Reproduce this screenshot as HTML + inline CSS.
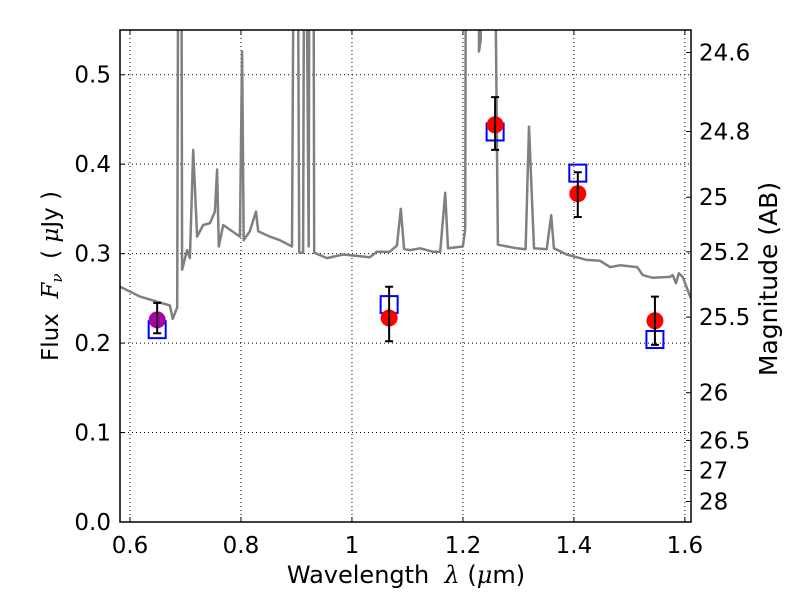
<!DOCTYPE html>
<html><head><meta charset="utf-8">
<style>
html,body{margin:0;padding:0;background:#fff;}
svg text{font-family:"DejaVu Sans","Liberation Sans",sans-serif;fill:#000;}
</style></head>
<body>
<svg id="chart" width="800" height="600" viewBox="0 0 800 600" xmlns="http://www.w3.org/2000/svg">
<rect width="800" height="600" fill="#fff"/>
<g id="grid"></g>
<g id="plot"></g>
<g id="axes"></g>
</svg>
<script>
// ---- data ----
const specWave = [0.582,0.618,0.672,0.677,0.685,0.688,0.692,0.694,0.703,0.708,0.714,0.721,0.732,0.744,0.753,0.757,0.760,0.768,0.798,0.802,0.805,0.816,0.827,0.831,0.852,0.870,0.892,0.897,0.901,0.905,0.912,0.915,0.922,0.924,0.930,0.932,0.955,0.984,1.032,1.045,1.068,1.081,1.088,1.094,1.105,1.123,1.146,1.159,1.168,1.173,1.200,1.204,1.206,1.228,1.229,1.232,1.236,1.254,1.263,1.297,1.313,1.319,1.328,1.351,1.359,1.364,1.387,1.423,1.447,1.465,1.483,1.514,1.524,1.542,1.573,1.578,1.584,1.589,1.596,1.607,1.611];
const specFlux = [0.263,0.252,0.242,0.227,0.240,0.9,0.9,0.282,0.304,0.295,0.416,0.319,0.332,0.334,0.347,0.394,0.308,0.332,0.319,0.526,0.315,0.325,0.347,0.325,0.319,0.315,0.308,0.9,0.9,0.301,0.301,0.9,0.308,0.9,0.9,0.301,0.295,0.299,0.296,0.302,0.302,0.309,0.350,0.305,0.304,0.306,0.302,0.302,0.368,0.306,0.308,0.327,0.9,0.9,0.526,0.539,0.9,0.9,0.310,0.306,0.305,0.442,0.306,0.305,0.343,0.306,0.299,0.293,0.292,0.285,0.287,0.285,0.276,0.273,0.274,0.276,0.267,0.278,0.274,0.256,0.25];
const obsWave = [0.649,1.067,1.258,1.407,1.546];
const obsFlux = [0.226,0.228,0.444,0.367,0.225];
const obsErrLo = [0.211,0.202,0.416,0.341,0.198];
const obsErrHi = [0.245,0.263,0.475,0.391,0.252];
const obsColor = ['#aa00aa','#ff0000','#ff0000','#ff0000','#ff0000'];
const modelFlux = [0.215,0.243,0.436,0.390,0.204];
const xTicks = [0.6,0.8,1.0,1.2,1.4,1.6];
const xTickLabels = ['0.6','0.8','1','1.2','1.4','1.6'];
const yTicks = [0,0.1,0.2,0.3,0.4,0.5];
const yTickLabels = ['0.0','0.1','0.2','0.3','0.4','0.5'];
const magTicks = [24.6,24.8,25,25.2,25.5,26,26.5,27,28];
const magTickLabels = ['24.6','24.8','25','25.2','25.5','26','26.5','27','28'];

// ---- axes ----
const L=120,R=691,T=30,B=522;
const xMin=0.582,xMax=1.611,yMin=0,yMax=0.55;
const X=v=>L+(v-xMin)/(xMax-xMin)*(R-L);
const Y=v=>B-(v-yMin)/(yMax-yMin)*(B-T);
const magToFlux=m=>Math.pow(10,(23.9-m)/2.5);
const NS='http://www.w3.org/2000/svg';
function mk(tag,attrs,parent){const e=document.createElementNS(NS,tag);for(const k in attrs)e.setAttribute(k,attrs[k]);parent.appendChild(e);return e;}
const grid=document.getElementById('grid'),plot=document.getElementById('plot'),axes=document.getElementById('axes');
const FS=23;

xTicks.forEach((t,i)=>{
  const x=X(t);
  let g=mk('line',{x1:x,x2:x,y1:T,y2:B,stroke:'#000','stroke-width':1,'stroke-dasharray':'1,3'},grid);
  
  
  let tk=mk('line',{x1:x,x2:x,y1:B,y2:B-5,stroke:'#000'},axes);
  
  
  let tk2=mk('line',{x1:x,x2:x,y1:T,y2:T+5,stroke:'#000'},axes);
  
  
  let tx=mk('text',{x:x,y:B+31,'text-anchor':'middle','font-size':FS},axes);
  tx.textContent=xTickLabels[i];
  
  
});
yTicks.forEach((t,i)=>{
  const y=Y(t);
  let g=mk('line',{x1:L,x2:R,y1:y,y2:y,stroke:'#000','stroke-width':1,'stroke-dasharray':'1,3'},grid);
  
  
  let tk=mk('line',{x1:L,x2:L+5,y1:y,y2:y,stroke:'#000'},axes);
  
  
  let tx=mk('text',{x:L-9,y:y+8,'text-anchor':'end','font-size':FS},axes);
  tx.textContent=yTickLabels[i];
  
  
});
magTicks.forEach((m,i)=>{
  const y=Y(magToFlux(m));
  let tk=mk('line',{x1:R,x2:R-5,y1:y,y2:y,stroke:'#000'},axes);
  
  
  let tx=mk('text',{x:R+8,y:y+8,'text-anchor':'start','font-size':FS},axes);
  tx.textContent=magTickLabels[i];
  
  
});

// spectrum
const clip=mk('clipPath',{id:'pc'},plot);
mk('rect',{x:L,y:T,width:R-L,height:B-T},clip);
let d=specWave.map((w,i)=>(i?'L':'M')+X(w).toFixed(1)+','+Y(specFlux[i]).toFixed(1)).join(' ');
let sp=mk('path',{d:d,fill:'none',stroke:'#808080','stroke-width':2.5,'clip-path':'url(#pc)','stroke-linejoin':'round'},plot);



obsWave.forEach((w,i)=>{
  let s=mk('rect',{x:X(w)-8.5,y:Y(modelFlux[i])-8.5,width:17,height:17,fill:'none',stroke:'#0000ff','stroke-width':2},plot);
  
  
});
obsWave.forEach((w,i)=>{
  const x=X(w);
  let c=mk('circle',{cx:x,cy:Y(obsFlux[i]),r:8.5,fill:obsColor[i]},plot);
  
  
  let e=mk('path',{d:`M${x},${Y(obsErrLo[i])}V${Y(obsErrHi[i])}M${x-4},${Y(obsErrLo[i])}h8M${x-4},${Y(obsErrHi[i])}h8`,stroke:'#000','stroke-width':2,fill:'none'},plot);
  
  
});

let fr=mk('rect',{x:L,y:T,width:R-L,height:B-T,fill:'none',stroke:'#000','stroke-width':1.5},axes);



let xl=mk('text',{x:406,y:583,'text-anchor':'middle','font-size':24},axes);
xl.innerHTML='Wavelength\u00a0\u00a0<tspan font-style="italic" font-family="DejaVu Serif,serif">λ</tspan>\u00a0(<tspan font-style="italic" font-family="DejaVu Serif,serif">μ</tspan>m)';



let yl=mk('text',{x:0,y:0,'text-anchor':'middle','font-size':23,transform:'translate(58,276) rotate(-90)'},axes);
yl.innerHTML='Flux\u00a0\u00a0<tspan font-style="italic" font-family="DejaVu Serif,serif">F<tspan font-size="15" dy="4">ν</tspan></tspan><tspan dy="-4">\u00a0\u00a0(\u00a0</tspan><tspan font-style="italic" font-family="DejaVu Serif,serif">μ</tspan>Jy\u00a0)';



let rl=mk('text',{x:0,y:0,'text-anchor':'middle','font-size':25,transform:'translate(777,279) rotate(-90)'},axes);
rl.textContent='Magnitude (AB)';


</script>
</body></html>
